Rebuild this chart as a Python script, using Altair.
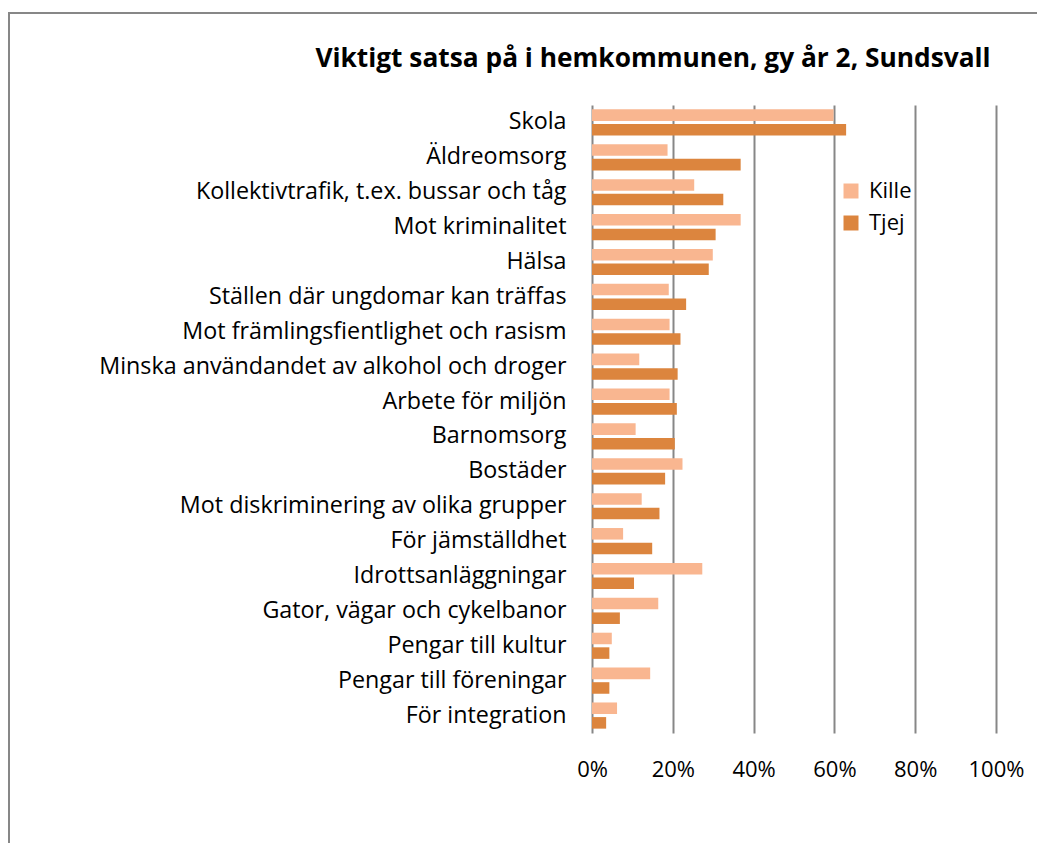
import altair as alt
import pandas as pd

categories = [
    "Skola", "Äldreomsorg", "Kollektivtrafik, t.ex. bussar och tåg",
    "Mot kriminalitet", "Hälsa", "Ställen där ungdomar kan träffas",
    "Mot främlingsfientlighet och rasism",
    "Minska användandet av alkohol och droger", "Arbete för miljön",
    "Barnomsorg", "Bostäder", "Mot diskriminering av olika grupper",
    "För jämställdhet", "Idrottsanläggningar", "Gator, vägar och cykelbanor",
    "Pengar till kultur", "Pengar till föreningar", "För integration",
]
kille = [59.8, 18.7, 25.3, 36.8, 29.9, 19.0, 19.2, 11.7, 19.2, 10.8, 22.4,
         12.3, 7.7, 27.3, 16.4, 4.9, 14.4, 6.2]
tjej = [62.9, 36.8, 32.5, 30.6, 28.9, 23.3, 21.9, 21.2, 21.0, 20.5, 18.1,
        16.7, 14.9, 10.4, 6.9, 4.3, 4.3, 3.5]
series = ["Kille", "Tjej"]
colors = ["#F9B690", "#DC853E"]
x_ticks = [0, 0.2, 0.4, 0.6, 0.8, 1.0]

rows = []
for c, k, t in zip(categories, kille, tjej):
    rows.append({"kategori": c, "kon": "Kille", "andel": k / 100})
    rows.append({"kategori": c, "kon": "Tjej", "andel": t / 100})
df = pd.DataFrame(rows)

FONT = "Open Sans"

bars = alt.Chart(df).mark_bar().encode(
    y=alt.Y("kategori:N", sort=categories,
            scale=alt.Scale(paddingInner=0.25, paddingOuter=0.125),
            axis=alt.Axis(title=None, ticks=False, domain=False, labelFontSize=23.3,
                          labelFont=FONT, labelColor="#000000", labelPadding=26,
                          labelLimit=600, grid=False)),
    yOffset=alt.YOffset("kon:N", sort=series,
                        scale=alt.Scale(paddingInner=0.21, paddingOuter=0)),
    x=alt.X("andel:Q", scale=alt.Scale(domain=[0, 1]),
            axis=alt.Axis(title=None, values=x_ticks, format=".0%", ticks=False,
                          domain=False, grid=True, gridColor="#878787",
                          gridWidth=2, labelFontSize=22, labelFont=FONT,
                          labelColor="#000000", labelPadding=26,
                          labelFlush=False, labelOverlap=False)),
    color=alt.Color("kon:N", sort=series,
                    scale=alt.Scale(domain=series, range=colors),
                    legend=alt.Legend(title=None, orient="none", legendX=248,
                                      legendY=75, symbolType="square",
                                      symbolSize=225, symbolStrokeWidth=0,
                                      labelFontSize=22, labelFont=FONT,
                                      labelColor="#000000", labelOffset=7,
                                      rowPadding=10, padding=0)),
)

frame = alt.Chart(pd.DataFrame({"f": [1]})).mark_rect(
    fill=None, stroke="#878787", strokeWidth=2
).encode(
    x=alt.value(-583), x2=alt.value(470), y=alt.value(-92), y2=alt.value(770)
)

chart = alt.layer(frame, bars).properties(
    width=404, height=628,
    title=alt.TitleParams(
        "Viktigt satsa på i hemkommunen, gy år 2, Sundsvall",
        font=FONT, fontSize=26.3, fontWeight="bold", color="#000000",
        anchor="middle", frame="group", dx=-141, offset=-60,
    ),
    autosize=alt.AutoSizeParams(type="none"),
    padding={"left": 584, "top": 97, "right": 41, "bottom": 110},
).configure_view(stroke=None)

chart.save("out.html", embed_options={"renderer": "svg", "actions": False})
